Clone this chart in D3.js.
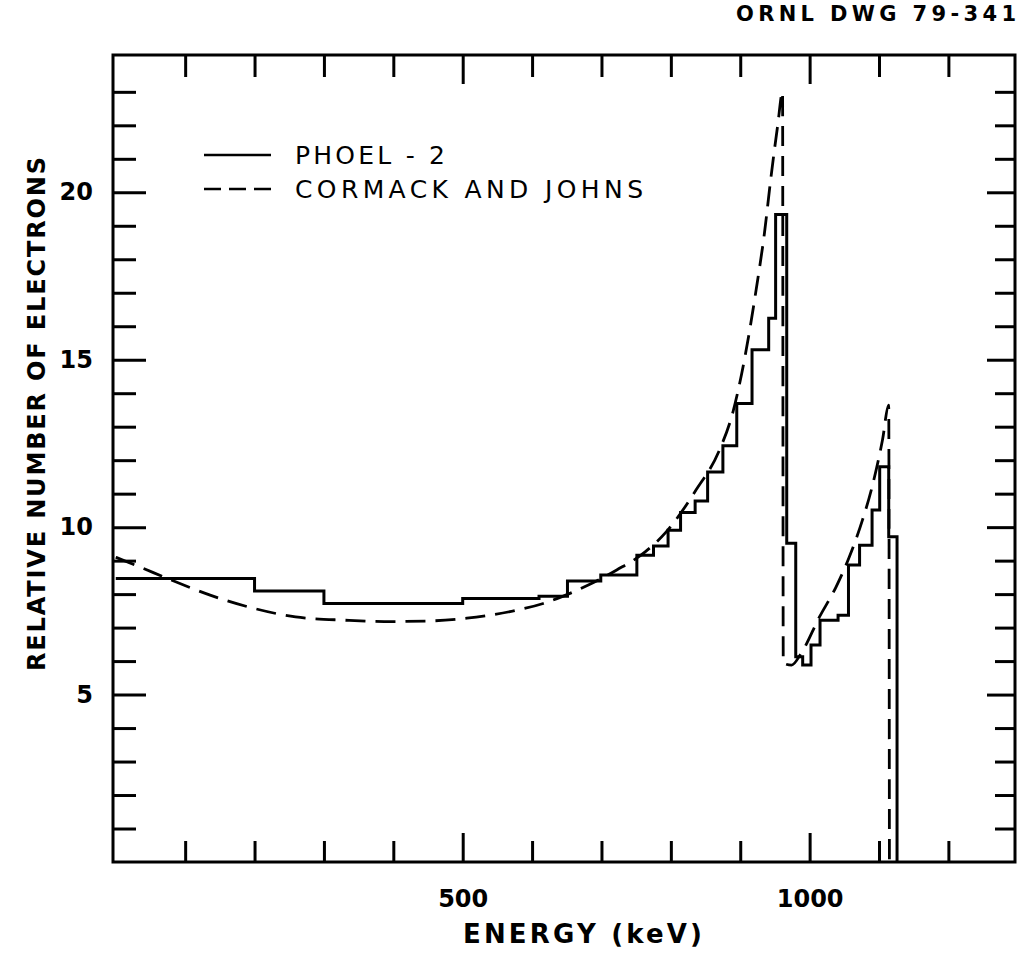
<!DOCTYPE html>
<html>
<head>
<meta charset="utf-8">
<script src="https://cdn.jsdelivr.net/npm/d3@7"></script>
<style>
  body { margin: 0; background: #fff; }
  text { font-family: "DejaVu Sans", sans-serif; fill: #000; }
</style>
</head>
<body>
<svg id="chart" width="1022" height="957"></svg>
<script>
// PHOEL-2 histogram: bin edges (keV) and bin contents
const phoelEdges = [0, 200, 300, 500, 610, 651, 699, 751, 775, 796, 814, 835, 853, 875, 895, 917,
  941, 951, 967, 980, 990, 1002, 1015, 1041, 1056, 1072, 1090, 1101, 1114, 1126];
const phoelValues = [8.47, 8.09, 7.72, 7.87, 7.94, 8.39, 8.57, 9.16, 9.44, 9.91, 10.44, 10.78, 11.65,
  12.43, 13.69, 15.3, 16.24, 19.34, 9.52, 6.13, 5.88, 6.48, 7.22, 7.37, 8.87, 9.46, 10.51, 11.8, 9.71];

// Cormack and Johns curve
const cjEnergy = [0, 36, 74, 136, 198, 259, 331, 387, 454, 506, 542, 578, 616, 645, 681, 722, 763, 793,
  836, 870, 889, 906, 923, 935, 944, 954, 961, 962, 974, 988, 1014, 1038, 1057, 1076, 1090, 1105, 1114, 1115];
const cjValue = [9.1, 8.8, 8.47, 7.97, 7.58, 7.32, 7.22, 7.18, 7.2, 7.28, 7.38, 7.52, 7.72, 7.94, 8.27, 8.72, 9.26, 9.85,
  11.1, 12.3, 13.4, 15.0, 17.1, 18.8, 20.4, 22.0, 23.0, 5.94, 5.88, 6.24, 7.31, 8.21, 9.1, 10.2, 11.2, 12.6, 13.64, 0];

// axis ticks
const xTicks = [100, 200, 300, 400, 500, 600, 700, 800, 900, 1000, 1100, 1200];
const xLabelled = [500, 1000];
const yTicks = d3.range(1, 24);
const yLabelled = [5, 10, 15, 20];

const legendNames = ["PHOEL - 2", "CORMACK AND JOHNS"];

const svg = d3.select("#chart");

const x = d3.scaleLinear().domain([-4, 1296]).range([113, 1015]);
const y = d3.scaleLinear().domain([0, 24.1]).range([862, 55]);

const x0 = x.range()[0], x1 = x.range()[1];
const yb = y.range()[0], yt = y.range()[1];

function styleAxis(g) {
  g.select(".domain").remove();
  g.selectAll(".tick line").attr("stroke", "#000").attr("stroke-width", 3);
  g.selectAll(".tick text")
    .attr("font-size", 24).attr("font-weight", "bold")
    .attr("font-family", "DejaVu Sans, sans-serif").attr("fill", "#000");
}

const minorX = xTicks.filter(v => !xLabelled.includes(v));
const minorY = yTicks.filter(v => !yLabelled.includes(v));

// bottom
svg.append("g").attr("transform", `translate(0,${yb})`)
  .call(d3.axisBottom(x).tickValues(minorX).tickSize(-21).tickFormat("")).call(styleAxis);
svg.append("g").attr("transform", `translate(0,${yb})`)
  .call(d3.axisBottom(x).tickValues(xLabelled).tickSize(-29).tickPadding(28).tickFormat(d3.format("d")))
  .call(styleAxis);
// top
svg.append("g").attr("transform", `translate(0,${yt})`)
  .call(d3.axisTop(x).tickValues(minorX).tickSize(-22).tickFormat("")).call(styleAxis);
svg.append("g").attr("transform", `translate(0,${yt})`)
  .call(d3.axisTop(x).tickValues(xLabelled).tickSize(-29).tickFormat("")).call(styleAxis);
// left
svg.append("g").attr("transform", `translate(${x0},0)`)
  .call(d3.axisLeft(y).tickValues(minorY).tickSize(-23).tickFormat("")).call(styleAxis);
svg.append("g").attr("transform", `translate(${x0},0)`)
  .call(d3.axisLeft(y).tickValues(yLabelled).tickSize(-33).tickPadding(20).tickFormat(d3.format("d")))
  .call(styleAxis);
// right
svg.append("g").attr("transform", `translate(${x1},0)`)
  .call(d3.axisRight(y).tickValues(minorY).tickSize(-20).tickFormat("")).call(styleAxis);
svg.append("g").attr("transform", `translate(${x1},0)`)
  .call(d3.axisRight(y).tickValues(yLabelled).tickSize(-28).tickFormat("")).call(styleAxis);

// frame
svg.append("rect")
  .attr("x", x0).attr("y", yt)
  .attr("width", x1 - x0).attr("height", yb - yt)
  .attr("fill", "none").attr("stroke", "#000").attr("stroke-width", 3);

// Cormack and Johns (dashed)
const cjData = cjEnergy.map((e, i) => [e, cjValue[i]]);
svg.append("path")
  .datum(cjData)
  .attr("fill", "none").attr("stroke", "#000").attr("stroke-width", 2.8)
  .attr("stroke-dasharray", "20,10")
  .attr("d", d3.line().x(d => x(d[0])).y(d => y(d[1])).curve(d3.curveMonotoneX));

// PHOEL-2 (solid histogram)
const phoelData = phoelEdges.map((e, i) => [e, phoelValues[Math.min(i, phoelValues.length - 1)]]);
phoelData.push([phoelEdges[phoelEdges.length - 1], 0]);
svg.append("path")
  .datum(phoelData)
  .attr("fill", "none").attr("stroke", "#000").attr("stroke-width", 3)
  .attr("stroke-linejoin", "miter")
  .attr("d", d3.line().x(d => x(d[0])).y(d => y(d[1])).curve(d3.curveStepAfter));

// legend
const legend = svg.append("g");
legend.append("line").attr("x1", 204).attr("x2", 271).attr("y1", 155).attr("y2", 155)
  .attr("stroke", "#000").attr("stroke-width", 2.6);
legend.append("line").attr("x1", 204).attr("x2", 271).attr("y1", 189).attr("y2", 189)
  .attr("stroke", "#000").attr("stroke-width", 2.6).attr("stroke-dasharray", "17,8");
legend.append("text").attr("x", 295).attr("y", 164).attr("font-size", 25)
  .attr("textLength", 150).attr("lengthAdjust", "spacing").text(legendNames[0]);
legend.append("text").attr("x", 295).attr("y", 198).attr("font-size", 25)
  .attr("textLength", 348).attr("lengthAdjust", "spacing").text(legendNames[1]);

// titles
svg.append("text").attr("x", 736).attr("y", 21).attr("font-size", 21).attr("font-weight", "bold")
  .attr("textLength", 280).attr("lengthAdjust", "spacing").text("ORNL DWG 79-341");

svg.append("text").attr("x", 463).attr("y", 943).attr("font-size", 26).attr("font-weight", "bold")
  .attr("textLength", 239).attr("lengthAdjust", "spacing").text("ENERGY (keV)");

svg.append("text")
  .attr("transform", "translate(45,414) rotate(-90)")
  .attr("text-anchor", "middle").attr("font-size", 24).attr("font-weight", "bold")
  .attr("textLength", 514).attr("lengthAdjust", "spacing")
  .text("RELATIVE NUMBER OF ELECTRONS");
</script>
</body>
</html>
